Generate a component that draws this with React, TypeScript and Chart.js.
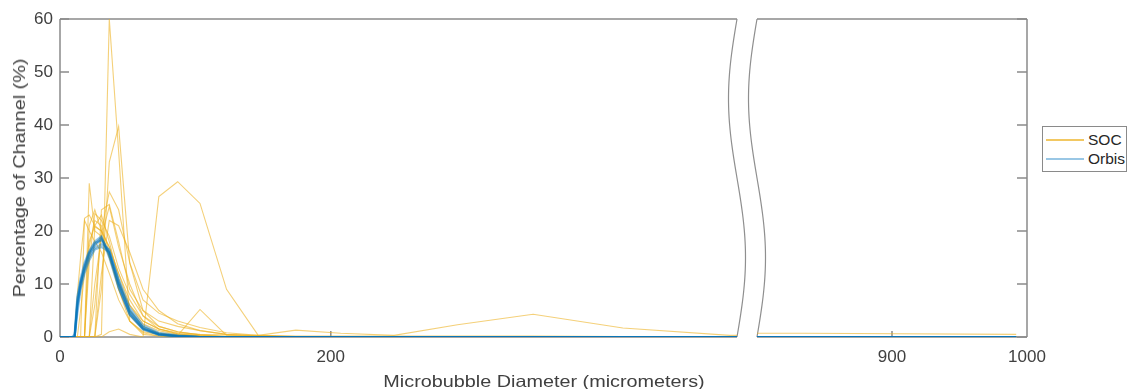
import React, { useEffect, useRef } from "react";
import { Chart, registerables } from "chart.js";

Chart.register(...registerables);

// Bin centres (micrometers), roughly log-spaced
const BINS = [0, 7.6, 9.0, 10.8, 12.8, 15.2, 18.1, 21.6, 25.7, 30.6, 36.4, 43.3, 51.5, 61.3, 73.0, 86.9, 103.4, 123.0, 146.4, 174.2, 207.3, 246.7, 293.6, 349.4, 415.7, 494.7, 588.7, 700.6, 833.7, 992.0];

// SOC traces (percentage of channel per bin)
const SOC_1 = [0, 0, 0, 0, 0, 0, 0, 0, 0, 0.5, 60, 35, 3, 0.5, 0.2, 0, 0, 0, 0, 0, 0, 0, 0, 0, 0, 0, 0, 0, 0, 0];
const SOC_2 = [0, 0, 0, 0, 0, 0, 0, 0, 0, 9, 33, 39.7, 14, 5, 2, 1, 0.4, 0.1, 0, 0, 0, 0, 0, 0, 0, 0, 0, 0, 0, 0];
const SOC_3 = [0, 0, 0, 0, 0, 0, 0, 29, 20, 19, 15, 9, 4, 1.5, 0.5, 0.2, 0, 0, 0, 0, 0, 0, 0, 0, 0, 0, 0, 0, 0, 0];
const SOC_4 = [0, 0, 0, 0, 0, 0, 0, 0, 0, 0, 1, 1.5, 0.5, 0, 26.5, 29.3, 25.2, 9, 0.3, 1.3, 0.7, 0.3, 2.3, 4.3, 1.7, 0.3, 0.4, 0.7, 0.7, 0.5];
const SOC_5 = [0, 0, 0, 0, 8, 15, 22, 20, 18, 16, 12, 7, 3, 1, 0.5, 0.3, 5.2, 0.3, 0.1, 0, 0, 0, 0, 0, 0, 0, 0, 0, 0, 0];
const SOC_6 = [0, 0, 0, 0, 0, 0, 22.4, 23, 21, 23, 18, 11, 5, 2, 0.8, 0.3, 0.1, 0, 0, 0, 0, 0, 0, 0, 0, 0, 0, 0, 0, 0];
const SOC_7 = [0, 0, 0, 0, 0, 0, 0, 14, 23.3, 22, 19, 13, 8, 4, 2, 1, 0.4, 0.1, 0, 0, 0, 0, 0, 0, 0, 0, 0, 0, 0, 0];
const SOC_8 = [0, 0, 0, 0, 0, 0, 0, 0, 6, 20, 27.4, 24, 14, 7, 4.5, 3, 1.8, 0.8, 0.3, 0.1, 0, 0, 0, 0, 0, 0, 0, 0, 0, 0];
const SOC_9 = [0, 0, 0, 0, 0, 0, 0, 0, 0, 24, 25, 18, 9, 5, 3, 2, 1.2, 0.5, 0.2, 0, 0, 0, 0, 0, 0, 0, 0, 0, 0, 0];
const SOC_10 = [0, 0, 0, 0, 0, 0, 0, 0, 20.8, 20, 17, 12, 6, 2.5, 1.2, 0.5, 0.2, 0, 0, 0, 0, 0, 0, 0, 0, 0, 0, 0, 0, 0];
const SOC_11 = [0, 0, 0, 0, 0, 5, 12, 18, 21, 20, 17, 12, 7, 3, 1.5, 0.6, 0.3, 0, 0, 0, 0, 0, 0, 0, 0, 0, 0, 0, 0, 0];
const SOC_12 = [0, 0, 0, 0, 0, 0, 0, 0, 0, 12, 22, 21, 16, 9, 5, 2.5, 1.2, 0.5, 0.2, 0, 0, 0, 0, 0, 0, 0, 0, 0, 0, 0];
const SOC_13 = [0, 0, 0, 0, 0, 0, 0, 0, 10, 19, 24.6, 17, 10, 4, 1.5, 0.6, 0.2, 0, 0, 0, 0, 0, 0, 0, 0, 0, 0, 0, 0, 0];
const SOC_14 = [0, 0, 0, 0, 0, 0, 0, 17, 22, 21, 16, 9, 3, 0.8, 0.2, 0, 0, 0, 0, 0, 0, 0, 0, 0, 0, 0, 0, 0, 0, 0];
const SOC_15 = [0, 0, 0, 0, 0, 0, 0, 21, 24, 20, 15, 10, 6, 3, 1.5, 0.8, 0.5, 0.4, 0.3, 0.2, 0.2, 0.2, 0.2, 0.2, 0.1, 0.1, 0, 0, 0, 0];

// Orbis traces
const ORBIS_1 = [0, 0, 0, 0, 7, 10.5, 13, 15.5, 17.5, 18.8, 15.5, 10, 4.5, 1.6, 0.5, 0.15, 0, 0, 0, 0, 0, 0, 0, 0, 0, 0, 0, 0, 0, 0];
const ORBIS_2 = [0, 0, 0, 0, 5.5, 10, 13.5, 16, 17.8, 18.2, 15.8, 9.5, 4.2, 1.5, 0.5, 0.1, 0, 0, 0, 0, 0, 0, 0, 0, 0, 0, 0, 0, 0, 0];
const ORBIS_3 = [0, 0, 0, 0, 6, 9.5, 12.5, 15, 16.8, 17.5, 16.5, 10.5, 5, 1.9, 0.6, 0.2, 0, 0, 0, 0, 0, 0, 0, 0, 0, 0, 0, 0, 0, 0];
const ORBIS_4 = [0, 0, 0, 0.5, 7.5, 11, 14, 16.2, 18, 19, 15, 9.2, 4.2, 1.4, 0.4, 0.1, 0, 0, 0, 0, 0, 0, 0, 0, 0, 0, 0, 0, 0, 0];
const ORBIS_5 = [0, 0, 0, 0, 4.5, 9, 12, 14.5, 16.5, 17, 16, 11, 5.5, 2.2, 0.8, 0.3, 0, 0, 0, 0, 0, 0, 0, 0, 0, 0, 0, 0, 0, 0];
const ORBIS_6 = [0, 0, 0, 0, 6.5, 10.2, 13.2, 15.8, 17.2, 18.5, 16.2, 10, 4.8, 1.7, 0.5, 0.15, 0, 0, 0, 0, 0, 0, 0, 0, 0, 0, 0, 0, 0, 0];

const SOC_TRACES = [SOC_1, SOC_2, SOC_3, SOC_4, SOC_5, SOC_6, SOC_7, SOC_8, SOC_9, SOC_10, SOC_11, SOC_12, SOC_13, SOC_14, SOC_15];
const ORBIS_TRACES = [ORBIS_1, ORBIS_2, ORBIS_3, ORBIS_4, ORBIS_5, ORBIS_6];

const Y_TICKS = [0, 10, 20, 30, 40, 50, 60];
const LEFT_X_TICKS = [0, 200];
const RIGHT_X_TICKS = [900, 1000];
const LEFT_RANGE = [0, 500];
const RIGHT_RANGE = [800, 1000];

const X_TITLE = "Microbubble Diameter (micrometers)";
const Y_TITLE = "Percentage of Channel (%)";
const LEGEND_LABELS = ["SOC", "Orbis"];

const FONT = "'Liberation Sans', Arial, Helvetica, sans-serif";
const TEXT_COLOR = "#404040";
const FRAME_COLOR = "#8a8a8a";
const SOC_COLOR = "rgba(237,177,32,0.6)";
const ORBIS_COLOR = "rgba(0,114,189,0.42)";
const SOC_LEGEND = "rgba(237,177,32,0.7)";
const ORBIS_LEGEND = "rgba(0,114,189,0.4)";

function buildDatasets() {
  const toPoints = (vals: number[]) => BINS.map((x, i) => ({ x, y: vals[i] }));
  const orbis = ORBIS_TRACES.map((t, i) => ({
    label: i === 0 ? LEGEND_LABELS[1] : "",
    data: toPoints(t),
    borderColor: ORBIS_COLOR,
    borderWidth: 2.2,
    pointRadius: 0,
    tension: 0,
    fill: false,
  }));
  const soc = SOC_TRACES.map((t, i) => ({
    label: i === 0 ? LEGEND_LABELS[0] : "",
    data: toPoints(t),
    borderColor: SOC_COLOR,
    borderWidth: 1.1,
    pointRadius: 0,
    tension: 0,
    fill: false,
  }));
  return [...orbis, ...soc];
}

function framePlugin(side: "left" | "right", xTicks: number[]) {
  return {
    id: "frame_" + side,
    beforeDatasetsDraw(chart: any) {
      const { ctx, chartArea: a, scales } = chart;
      ctx.save();
      ctx.strokeStyle = FRAME_COLOR;
      ctx.lineWidth = 1.5;
      ctx.beginPath();
      ctx.moveTo(a.left, a.top);
      ctx.lineTo(a.right, a.top);
      ctx.moveTo(a.left, a.bottom);
      ctx.lineTo(a.right, a.bottom);
      if (side === "left") {
        ctx.moveTo(a.left, a.top);
        ctx.lineTo(a.left, a.bottom);
      } else {
        ctx.moveTo(a.right, a.top);
        ctx.lineTo(a.right, a.bottom);
      }
      ctx.stroke();
      ctx.beginPath();
      for (const v of Y_TICKS) {
        const y = scales.y.getPixelForValue(v);
        if (side === "left") {
          ctx.moveTo(a.left, y);
          ctx.lineTo(a.left + 9, y);
        } else {
          ctx.moveTo(a.right, y);
          ctx.lineTo(a.right - 10, y);
        }
      }
      for (const v of xTicks) {
        const x = scales.x.getPixelForValue(v);
        if (x > a.left + 2 && x < a.right - 2) {
          ctx.moveTo(x, a.bottom);
          ctx.lineTo(x, a.bottom - 6);
        }
      }
      ctx.stroke();
      // broken-axis wavy edge
      ctx.beginPath();
      ctx.strokeStyle = "#8f8f8f";
      ctx.lineWidth = 1.2;
      const x0 = side === "left" ? a.right : a.left;
      const n = 80;
      for (let i = 0; i <= n; i++) {
        const t = i / n;
        const y = a.top + t * (a.bottom - a.top);
        const x = x0 - 8.5 * Math.sin(2 * Math.PI * t);
        if (i === 0) ctx.moveTo(x, y);
        else ctx.lineTo(x, y);
      }
      ctx.stroke();
      ctx.restore();
    },
  };
}

function makeChart(canvas: HTMLCanvasElement, side: "left" | "right") {
  const isLeft = side === "left";
  const xTicks = isLeft ? LEFT_X_TICKS : RIGHT_X_TICKS;
  const range = isLeft ? LEFT_RANGE : RIGHT_RANGE;
  const tickFont = { family: FONT, size: 17 };
  return new Chart(canvas, {
    type: "line",
    data: { datasets: buildDatasets() as any },
    plugins: [framePlugin(side, xTicks)],
    options: {
      animation: false,
      responsive: false,
      layout: isLeft
        ? { padding: { left: 0, top: 19, right: 23, bottom: 0 } }
        : { padding: { left: 17, top: 19, right: 33, bottom: 0 } },
      plugins: { legend: { display: false }, tooltip: { enabled: false } },
      scales: {
        x: {
          type: "linear",
          min: range[0],
          max: range[1],
          afterBuildTicks: (s: any) => {
            s.ticks = xTicks.map((v) => ({ value: v }));
          },
          afterFit: (s: any) => {
            s.height = 52;
          },
          grid: { display: false, drawTicks: false },
          border: { display: false },
          ticks: {
            font: tickFont,
            color: TEXT_COLOR,
            padding: 10,
            maxRotation: 0,
            autoSkip: false,
            callback: (v: any) => String(v),
          },
        },
        y: {
          display: isLeft,
          min: 0,
          max: 60,
          afterBuildTicks: (s: any) => {
            s.ticks = Y_TICKS.map((v) => ({ value: v }));
          },
          afterFit: (s: any) => {
            s.width = isLeft ? 60 : 0;
          },
          grid: { display: false, drawTicks: false },
          border: { display: false },
          ticks: { font: tickFont, color: TEXT_COLOR, padding: 7, callback: (v: any) => String(v) },
        },
      },
    } as any,
  });
}

export default function App() {
  const leftRef = useRef<HTMLCanvasElement>(null);
  const rightRef = useRef<HTMLCanvasElement>(null);

  useEffect(() => {
    const l = makeChart(leftRef.current!, "left");
    const r = makeChart(rightRef.current!, "right");
    return () => {
      l.destroy();
      r.destroy();
    };
  }, []);

  const lineStyle = (top: number, color: string, h: number): React.CSSProperties => ({
    position: "absolute",
    left: 3,
    top: top - h / 2,
    width: 38,
    height: h,
    background: color,
  });
  const textStyle = (top: number): React.CSSProperties => ({
    position: "absolute",
    left: 45,
    top: top - 10,
    height: 20,
    lineHeight: "20px",
    fontSize: 15.5,
    fontFamily: FONT,
    color: "#262626",
  });
  const titleStyle: React.CSSProperties = {
    position: "absolute",
    whiteSpace: "nowrap",
    fontFamily: FONT,
    fontSize: 16.5,
    lineHeight: "20px",
    color: TEXT_COLOR,
  };

  return (
    <div style={{ position: "absolute", left: 0, top: 0, width: 1132, height: 389, background: "#fff", overflow: "hidden" }}>
      <canvas ref={leftRef} width={760} height={389} style={{ position: "absolute", left: 0, top: 0 }} />
      <canvas ref={rightRef} width={320} height={389} style={{ position: "absolute", left: 740, top: 0 }} />
      <div
        style={{
          ...titleStyle,
          left: 543.5,
          top: 381,
          transform: "translate(-50%, -50%) scaleX(1.2)",
        }}
      >
        {X_TITLE}
      </div>
      <div
        style={{
          ...titleStyle,
          left: 18.5,
          top: 178,
          transform: "translate(-50%, -50%) rotate(-90deg) scaleX(1.2)",
        }}
      >
        {Y_TITLE}
      </div>
      <div
        style={{
          position: "absolute",
          left: 1042,
          top: 126,
          width: 85,
          height: 46,
          border: "1px solid #8a8a8a",
          boxSizing: "border-box",
          background: "#fff",
        }}
      >
        <div style={lineStyle(13, SOC_LEGEND, 1.5)} />
        <div style={textStyle(13)}>{LEGEND_LABELS[0]}</div>
        <div style={lineStyle(32, ORBIS_LEGEND, 2.5)} />
        <div style={textStyle(32)}>{LEGEND_LABELS[1]}</div>
      </div>
    </div>
  );
}
